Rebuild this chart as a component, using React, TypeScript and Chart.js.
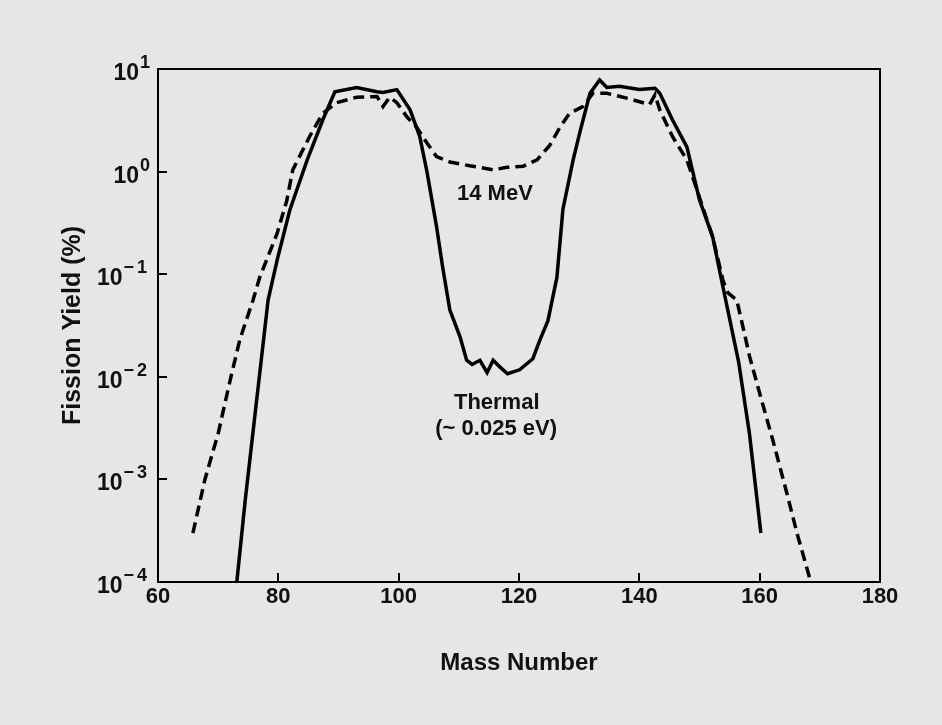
import React, { useEffect, useRef } from "react";
import { Chart, registerables } from "chart.js";

Chart.register(...registerables);

// Thermal (~0.025 eV) fission yield curve
const thermalMass = [
  73.1, 74.5, 78.3, 79.8, 81.9, 84.8, 87.4, 89.4, 93.0, 96.4, 97.4, 99.7,
  101.9, 103.5, 104.7, 106.3, 107.3, 108.5, 110.2, 111.3, 112.2, 113.5, 114.7,
  115.7, 116.8, 118.1, 120.1, 122.3, 123.5, 124.8, 126.3, 127.3, 129.0, 130.1,
  131.8, 133.4, 134.6, 136.7, 140.0, 142.6, 143.4, 145.5, 147.9, 150.0, 152.2,
  153.9, 156.5, 158.3, 160.2,
];
const thermalYield = [
  1.0e-4, 6.3e-4, 0.056, 0.137, 0.42, 1.3, 3.2, 6.0, 6.6, 6.0, 5.9, 6.3,
  4.0, 2.2, 1.0, 0.29, 0.118, 0.045, 0.0245, 0.0145, 0.0132, 0.0145, 0.011,
  0.0145, 0.0125, 0.0107, 0.0117, 0.015, 0.023, 0.035, 0.093, 0.43, 1.3, 2.4,
  5.8, 7.8, 6.6, 6.8, 6.3, 6.5, 5.8, 3.2, 1.74, 0.53, 0.23,
  0.075, 0.014, 0.0028, 3.0e-4,
];

// 14 MeV fission yield curve
const fastMass = [
  65.8, 67.8, 70.0, 72.0, 73.6, 75.8, 76.9, 79.8, 81.4, 82.4, 85.2, 87.4, 89.7,
  93.0, 96.4, 97.4, 98.5, 99.7, 101.4, 103.0, 104.7, 106.3, 108.5, 111.8, 113.5,
  115.7, 118.0, 120.7, 123.0, 125.1, 126.8, 128.4, 130.6, 132.3, 134.6, 137.9,
  141.7, 142.6, 143.4, 145.5, 147.9, 150.0, 152.2, 153.9, 154.7, 156.2, 157.2,
  158.3, 160.0, 162.2, 164.5, 166.2, 168.3,
];
const fastYield = [
  3.0e-4, 1.0e-3, 2.8e-3, 9.3e-3, 0.023, 0.056, 0.093, 0.25, 0.52, 1.04, 2.2, 3.7, 4.7,
  5.3, 5.4, 4.3, 5.3, 4.7, 3.4, 2.7, 1.9, 1.4, 1.24, 1.14, 1.1,
  1.04, 1.1, 1.13, 1.3, 1.8, 2.7, 3.7, 4.3, 5.8, 5.8, 5.2,
  4.5, 5.6, 4.0, 2.2, 1.3, 0.56, 0.23, 0.087, 0.066, 0.056, 0.031,
  0.016, 0.0069, 0.0024, 7.4e-4, 3.0e-4, 1.1e-4,
];

const xTicks = [60, 80, 100, 120, 140, 160, 180];
const yTicks = [1e-4, 1e-3, 1e-2, 1e-1, 1, 10];
const yTickBase = "10";
const yTickExponents = ["\u22124", "\u22123", "\u22122", "\u22121", "0", "1"];
const xTitle = "Mass Number";
const yTitle = "Fission Yield (%)";
const noteTexts = ["14 MeV", "Thermal", "(~ 0.025 eV)"];
const noteMass = [116.0, 116.3, 116.2];
const noteYield = [0.6, 0.0056, 0.0031];

const FONT = "'Liberation Sans', Arial, Helvetica, sans-serif";

export default function App() {
  const ref = useRef<HTMLCanvasElement | null>(null);

  useEffect(() => {
    document.body.style.margin = "0";
    const canvas = ref.current;
    if (!canvas) return;

    const bgPlugin = {
      id: "bgPlugin",
      beforeDraw(chart: any) {
        const { ctx, width, height } = chart;
        ctx.save();
        ctx.fillStyle = "#e6e6e6";
        ctx.fillRect(0, 0, width, height);
        ctx.restore();
      },
      afterDraw(chart: any) {
        const { ctx, chartArea } = chart;
        const ys = chart.scales.y;
        const xs = chart.scales.x;
        ctx.save();
        // frame
        ctx.strokeStyle = "#000";
        ctx.lineWidth = 2;
        ctx.strokeRect(chartArea.left, chartArea.top, chartArea.right - chartArea.left, chartArea.bottom - chartArea.top);
        // inward tick marks
        ctx.beginPath();
        xTicks.forEach((v) => {
          const px = Math.round(xs.getPixelForValue(v));
          ctx.moveTo(px, chartArea.bottom);
          ctx.lineTo(px, chartArea.bottom - 9);
        });
        yTicks.forEach((v) => {
          const py = Math.round(ys.getPixelForValue(v));
          ctx.moveTo(chartArea.left, py);
          ctx.lineTo(chartArea.left + 9, py);
        });
        ctx.stroke();
        // y tick labels with exponents
        ctx.fillStyle = "#111";
        const rightEdge = chartArea.left - 8;
        yTicks.forEach((v, i) => {
          const py = ys.getPixelForValue(v);
          const exp = yTickExponents[i];
          ctx.font = `bold 18px ${FONT}`;
          (ctx as any).letterSpacing = exp.length > 1 ? "3px" : "0px";
          ctx.textAlign = "right";
          ctx.textBaseline = "alphabetic";
          const ew = ctx.measureText(exp).width;
          ctx.fillText(exp, rightEdge, py - 1);
          (ctx as any).letterSpacing = "0px";
          ctx.font = `bold 23px ${FONT}`;
          ctx.fillText(yTickBase, rightEdge - ew - 1, py + 11);
        });
        // annotations
        ctx.font = `bold 22px ${FONT}`;
        ctx.textAlign = "center";
        ctx.textBaseline = "middle";
        noteTexts.forEach((t, i) => {
          ctx.fillText(t, xs.getPixelForValue(noteMass[i]), ys.getPixelForValue(noteYield[i]));
        });
        ctx.restore();
      },
    };

    const chart = new Chart(canvas, {
      type: "line",
      data: {
        datasets: [
          {
            label: "14 MeV",
            data: fastMass.map((m, i) => ({ x: m, y: fastYield[i] })),
            borderColor: "#000",
            borderWidth: 3.5,
            borderDash: [11, 6],
            pointRadius: 0,
            fill: false,
            tension: 0,
          },
          {
            label: "Thermal (~ 0.025 eV)",
            data: thermalMass.map((m, i) => ({ x: m, y: thermalYield[i] })),
            borderColor: "#000",
            borderWidth: 3.5,
            pointRadius: 0,
            fill: false,
            tension: 0,
          },
        ],
      },
      options: {
        animation: false,
        responsive: false,
        devicePixelRatio: 1,
        layout: { padding: { top: 69, right: 62, left: 0, bottom: 0 } },
        plugins: { legend: { display: false }, tooltip: { enabled: false } },
        scales: {
          x: {
            type: "linear",
            min: 60,
            max: 180,
            afterBuildTicks: (s: any) => {
              s.ticks = xTicks.map((v) => ({ value: v }));
            },
            afterFit: (s: any) => {
              s.height = 143;
            },
            border: { display: true, color: "#000", width: 2 },
            grid: { display: false, drawOnChartArea: false, drawTicks: false },
            ticks: {
              color: "#111",
              padding: 2,
              font: { family: FONT, size: 22, weight: "bold" },
              callback: (v: any) => String(v),
            },
            title: {
              display: true,
              text: xTitle,
              color: "#111",
              font: { family: FONT, size: 24, weight: "bold" },
              padding: { top: 0, bottom: 47 },
            },
          },
          y: {
            type: "logarithmic",
            min: 1e-4,
            max: 10,
            afterBuildTicks: (s: any) => {
              s.ticks = yTicks.map((v) => ({ value: v }));
            },
            afterFit: (s: any) => {
              s.width = 158;
            },
            border: { display: true, color: "#000", width: 2 },
            grid: { display: false, drawOnChartArea: false, drawTicks: false },
            ticks: { display: false },
            title: {
              display: true,
              text: yTitle,
              color: "#111",
              font: { family: FONT, size: 25, weight: "bold" },
              padding: { top: 58, bottom: 0 },
            },
          },
        },
      } as any,
      plugins: [bgPlugin],
    });

    return () => chart.destroy();
  }, []);

  return <canvas ref={ref} width={942} height={725} style={{ display: "block" }} />;
}
